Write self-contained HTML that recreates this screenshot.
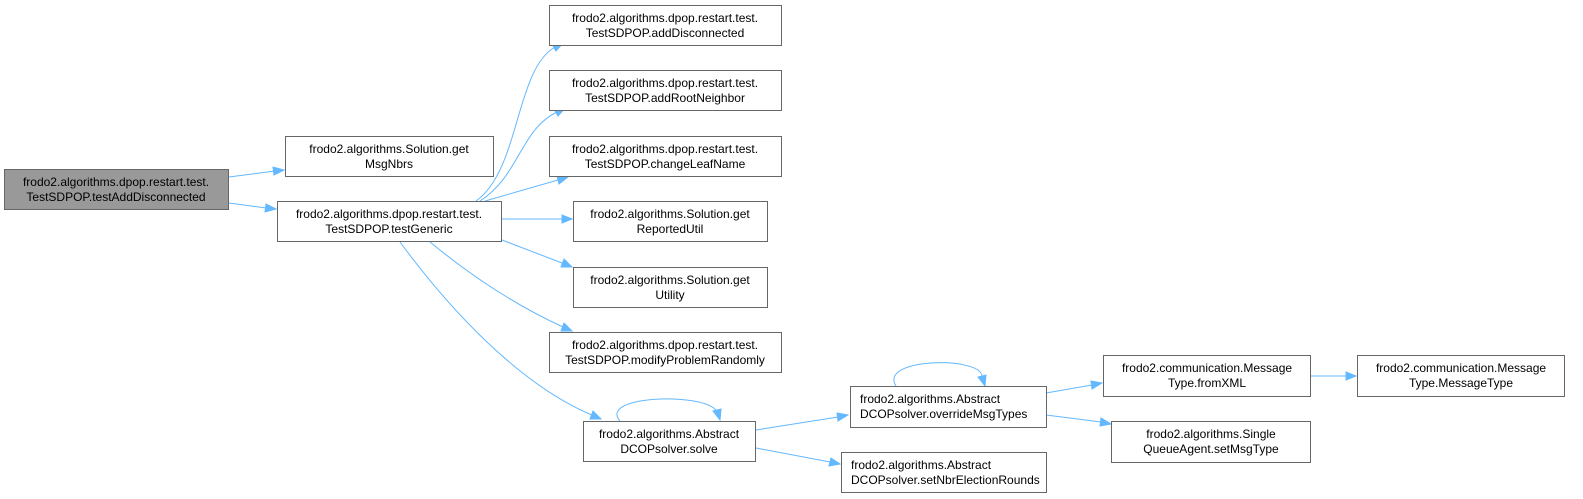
<!DOCTYPE html>
<html><head><meta charset="utf-8"><style>
html,body{margin:0;padding:0;background:#fff;}
svg{display:block}
text{font-family:"Liberation Sans",Arial,sans-serif;font-size:12px;fill:#000;text-anchor:middle}
text.l{text-anchor:start}
.n{fill:#fff;stroke:#666;stroke-width:1}
.e{fill:none;stroke:#63b8ff;stroke-width:1}
.a{fill:#63b8ff;stroke:#63b8ff}
</style></head><body>
<svg width="1583" height="499" viewBox="0 0 1583 499">
<path class="e" d="M229,177 L275,171"/><polygon class="a" points="284,170 274,175 273,167"/>
<path class="e" d="M229,203 L266,208"/><polygon class="a" points="276,209 265,212 266,204"/>
<path class="e" d="M476,201 C520,170 515,70 555,47"/><polygon class="a" points="563,43 556,51 552,44"/>
<path class="e" d="M480,201 C520,175 520,130 557,112"/><polygon class="a" points="565,108 558,116 554,109"/>
<path class="e" d="M485,201 L558,180"/><polygon class="a" points="568,177 559,184 557,176"/>
<path class="e" d="M502,219 L562,219"/><polygon class="a" points="572,219 562,223 562,215"/>
<path class="e" d="M502,240 L562,263"/><polygon class="a" points="572,267 561,267 564,259"/>
<path class="e" d="M430,242 C470,275 515,305 563,327"/><polygon class="a" points="572,331 561,331 564,323"/>
<path class="e" d="M400,242 C450,310 520,385 592,415"/><polygon class="a" points="601,419 590,419 593,411"/>
<path class="e" d="M620,421 C598,396 700,392 716,410"/><polygon class="a" points="720,420 713,411 721,409"/>
<path class="e" d="M756,430 L838,417"/><polygon class="a" points="848,415 838,421 837,413"/>
<path class="e" d="M756,448 L830,462"/><polygon class="a" points="840,464 829,466 831,458"/>
<path class="e" d="M896,386 C878,358 980,356 982,376"/><polygon class="a" points="985,386 978,377 986,375"/>
<path class="e" d="M1046,393 L1092,385"/><polygon class="a" points="1102,383 1092,389 1091,381"/>
<path class="e" d="M1046,415 L1101,422"/><polygon class="a" points="1111,424 1100,426 1101,418"/>
<path class="e" d="M1310,376 L1346,376"/><polygon class="a" points="1356,376 1346,380 1346,372"/>
<rect x="4.5" y="169.5" width="224" height="40" fill="#999" stroke="#666"/>
<text x="116" y="186">frodo2.algorithms.dpop.restart.test.</text><text x="116" y="201">TestSDPOP.testAddDisconnected</text>
<rect class="n" x="285.5" y="136.5" width="208" height="40"/>
<text x="389" y="153">frodo2.algorithms.Solution.get</text><text x="389" y="168">MsgNbrs</text>
<rect class="n" x="277.5" y="201.5" width="224" height="40"/>
<text x="389" y="218">frodo2.algorithms.dpop.restart.test.</text><text x="389" y="233">TestSDPOP.testGeneric</text>
<rect class="n" x="549.5" y="5.5" width="232" height="40"/>
<text x="665" y="22">frodo2.algorithms.dpop.restart.test.</text><text x="665" y="37">TestSDPOP.addDisconnected</text>
<rect class="n" x="549.5" y="70.5" width="232" height="40"/>
<text x="665" y="87">frodo2.algorithms.dpop.restart.test.</text><text x="665" y="102">TestSDPOP.addRootNeighbor</text>
<rect class="n" x="549.5" y="136.5" width="232" height="40"/>
<text x="665" y="153">frodo2.algorithms.dpop.restart.test.</text><text x="665" y="168">TestSDPOP.changeLeafName</text>
<rect class="n" x="573.5" y="201.5" width="194" height="40"/>
<text x="670" y="218">frodo2.algorithms.Solution.get</text><text x="670" y="233">ReportedUtil</text>
<rect class="n" x="573.5" y="267.5" width="194" height="40"/>
<text x="670" y="284">frodo2.algorithms.Solution.get</text><text x="670" y="299">Utility</text>
<rect class="n" x="549.5" y="332.5" width="232" height="40"/>
<text x="665" y="349">frodo2.algorithms.dpop.restart.test.</text><text x="665" y="364">TestSDPOP.modifyProblemRandomly</text>
<rect class="n" x="583.5" y="421.5" width="172" height="40"/>
<text x="669" y="438">frodo2.algorithms.Abstract</text><text x="669" y="453">DCOPsolver.solve</text>
<rect class="n" x="850.5" y="386.5" width="196" height="41"/>
<text class="l" x="860" y="403">frodo2.algorithms.Abstract</text><text class="l" x="860" y="418">DCOPsolver.overrideMsgTypes</text>
<rect class="n" x="841.5" y="452.5" width="205" height="40"/>
<text class="l" x="851" y="469">frodo2.algorithms.Abstract</text><text class="l" x="851" y="484">DCOPsolver.setNbrElectionRounds</text>
<rect class="n" x="1103.5" y="355.5" width="207" height="41"/>
<text x="1207" y="372">frodo2.communication.Message</text><text x="1207" y="387">Type.fromXML</text>
<rect class="n" x="1357.5" y="355.5" width="207" height="41"/>
<text x="1461" y="372">frodo2.communication.Message</text><text x="1461" y="387">Type.MessageType</text>
<rect class="n" x="1111.5" y="421.5" width="199" height="41"/>
<text x="1211" y="438">frodo2.algorithms.Single</text><text x="1211" y="453">QueueAgent.setMsgType</text>
</svg>
</body></html>
